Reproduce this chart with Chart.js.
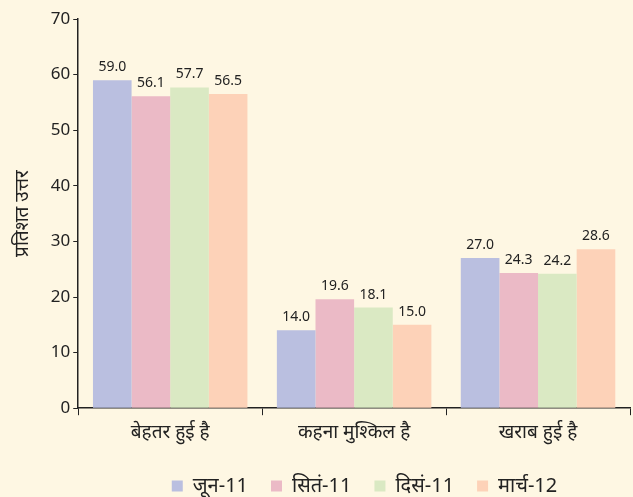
<!DOCTYPE html>
<html>
<head>
<meta charset="utf-8">
<script src="https://cdn.jsdelivr.net/npm/chart.js@4.4.1/dist/chart.umd.min.js"></script>
<style>
  html, body { margin: 0; padding: 0; background: #fef7e3; }
  #wrap { width: 633px; height: 497px; }
</style>
</head>
<body>
<div id="wrap"><canvas id="chart" width="633" height="497"></canvas></div>
<script>
const categories = ['बेहतर हुई है', 'कहना मुश्किल है', 'खराब हुई है'];
const seriesNames = ['जून-11', 'सितं-11', 'दिसं-11', 'मार्च-12'];
const jun11 = [59.0, 14.0, 27.0];
const sep11 = [56.1, 19.6, 24.3];
const dec11 = [57.7, 18.1, 24.2];
const mar12 = [56.5, 15.0, 28.6];
const colors = ['#babfe0', '#ebbac6', '#dae9c3', '#fdd2b8'];
const yTicks = [0, 10, 20, 30, 40, 50, 60, 70];

const fontFamily = "'Noto Sans', 'DejaVu Sans', sans-serif";

// draw the value above each bar
const valueLabels = {
  id: 'valueLabels',
  afterDatasetsDraw(chart) {
    const ctx = chart.ctx;
    ctx.save();
    ctx.font = '14px ' + fontFamily;
    ctx.fillStyle = '#222';
    ctx.textAlign = 'center';
    ctx.textBaseline = 'bottom';
    chart.data.datasets.forEach((ds, i) => {
      chart.getDatasetMeta(i).data.forEach((bar, j) => {
        ctx.fillText(ds.data[j].toFixed(1), bar.x, bar.y - 6);
      });
    });
    ctx.restore();
  }
};

// legend in the original sits a bit lower and right of centre
const legendShift = {
  id: 'legendShift',
  afterLayout(chart) {
    const lg = chart.legend;
    lg.left += 46; lg.right += 46;
    lg.top += 3; lg.bottom += 3;
  }
};

const seriesData = [jun11, sep11, dec11, mar12];

new Chart(document.getElementById('chart'), {
  type: 'bar',
  data: {
    labels: categories,
    datasets: seriesNames.map((name, i) => ({
      label: name,
      data: seriesData[i],
      backgroundColor: colors[i],
      borderWidth: 0,
      categoryPercentage: 0.84,
      barPercentage: 1.0
    }))
  },
  options: {
    responsive: false,
    animation: false,
    layout: { padding: { top: 19, right: 3, left: 7, bottom: -6 } },
    plugins: {
      legend: {
        position: 'bottom',
        labels: {
          boxWidth: 11,
          boxHeight: 11,
          padding: 23,
          color: '#222',
          font: { size: 20, family: fontFamily, lineHeight: 1.0 }
        }
      },
      tooltip: { enabled: false }
    },
    scales: {
      x: {
        grid: {
          display: true,
          drawOnChartArea: false,
          offset: true,
          tickLength: 7,
          color: '#222'
        },
        border: { color: '#222', width: 1.5 },
        ticks: {
          color: '#222',
          padding: 6,
          font: { size: 19, family: fontFamily }
        }
      },
      y: {
        min: 0,
        max: 70,
        afterBuildTicks(axis) {
          axis.ticks = yTicks.map(v => ({ value: v }));
        },
        grid: {
          display: true,
          drawOnChartArea: false,
          tickLength: 5,
          color: '#222'
        },
        border: { color: '#222', width: 1.5 },
        ticks: {
          color: '#222',
          padding: 3,
          font: { size: 17, family: fontFamily }
        },
        title: {
          display: true,
          text: 'प्रतिशत उत्तर',
          color: '#222',
          padding: { bottom: 14 },
          font: { size: 19, family: fontFamily }
        }
      }
    }
  },
  plugins: [valueLabels, legendShift]
});
</script>
</body>
</html>
